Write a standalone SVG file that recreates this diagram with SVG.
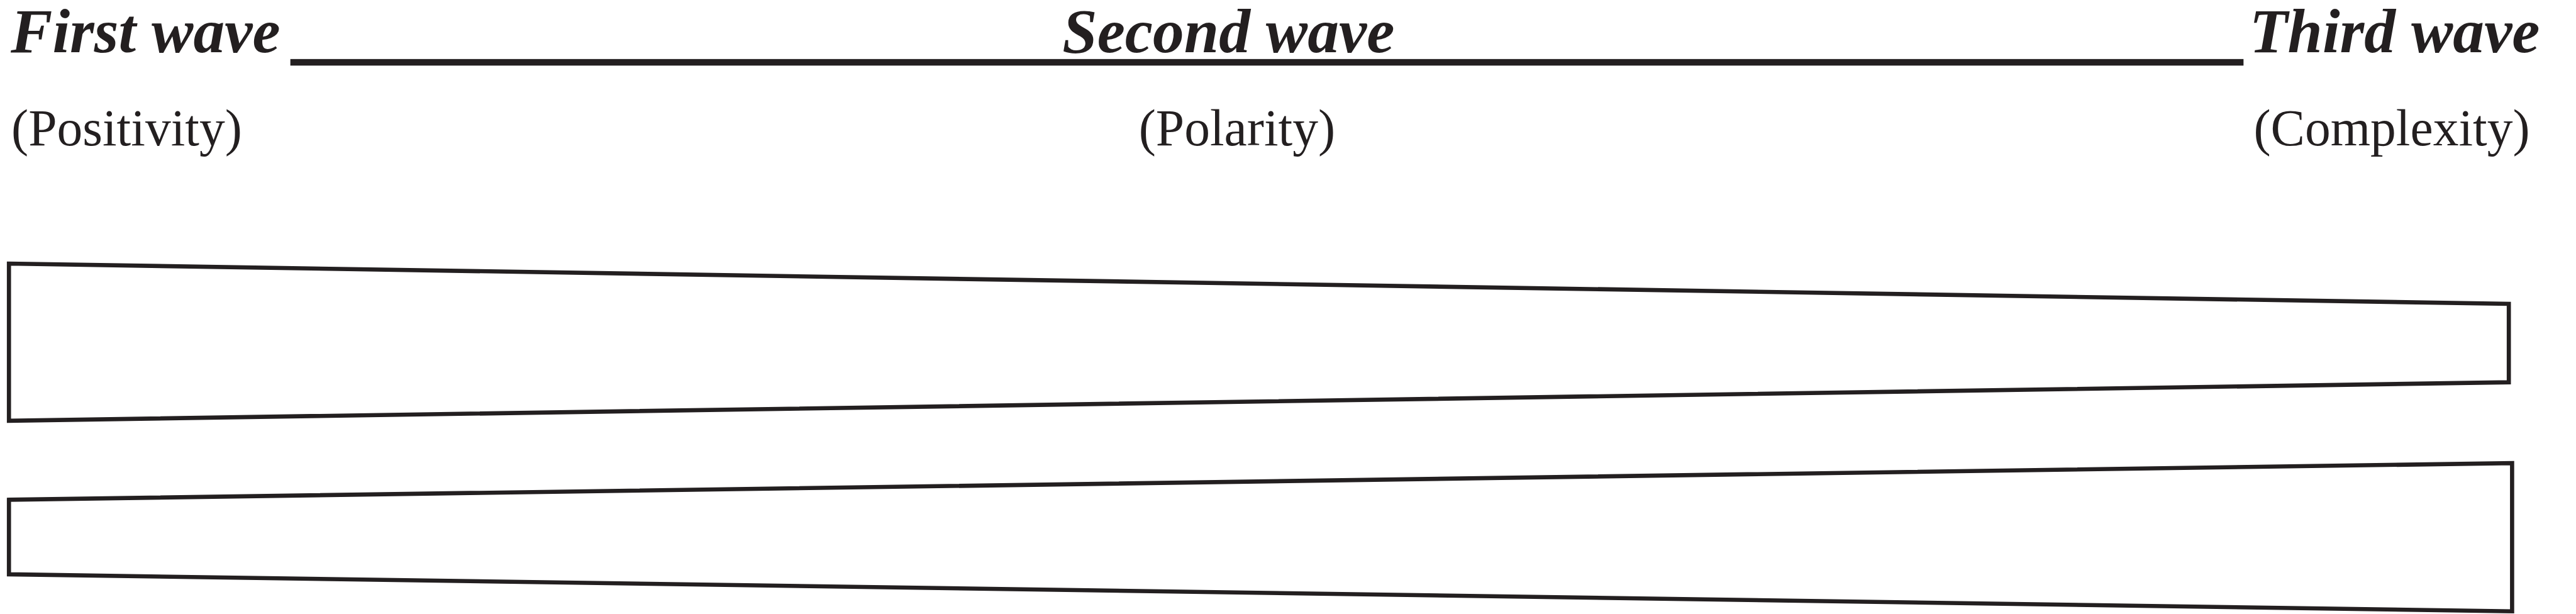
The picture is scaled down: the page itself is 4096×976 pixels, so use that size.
<svg xmlns="http://www.w3.org/2000/svg" width="4096" height="976" viewBox="0 0 4096 976">
  <style>
    .wave { font-family: "Liberation Serif", "Times New Roman", serif; font-weight: bold; font-style: italic; font-size: 105px; fill: #231f20; }
    .sub { font-family: "Liberation Serif", "Times New Roman", serif; font-size: 86px; fill: #231f20; }
    .band { fill: #ffffff; stroke: #231f20; stroke-width: 7; stroke-linejoin: miter; }
  </style>
  <rect x="0" y="0" width="4096" height="976" fill="#ffffff"/>
  <g transform="scale(0.948)">
    <g id="timeline">
      <rect x="487" y="99" width="3276" height="11" fill="#231f20"/>
    </g>
    <g id="first-wave">
      <text class="wave" x="18" y="88">First wave</text>
      <text class="sub" x="19" y="244">(Positivity)</text>
    </g>
    <g id="second-wave">
      <text class="wave" x="1782" y="88">Second wave</text>
      <text class="sub" x="1910" y="244">(Polarity)</text>
    </g>
    <g id="third-wave">
      <text class="wave" x="3773" y="88">Third wave</text>
      <text class="sub" x="3780" y="244">(Complexity)</text>
    </g>
    <g id="narrowing-band">
      <polygon class="band" points="15,442 4208,509.5 4208,641 15,705.5"/>
    </g>
    <g id="widening-band">
      <polygon class="band" points="15,838 4213.5,776.5 4213.5,1025 15,963"/>
    </g>
  </g>
</svg>
